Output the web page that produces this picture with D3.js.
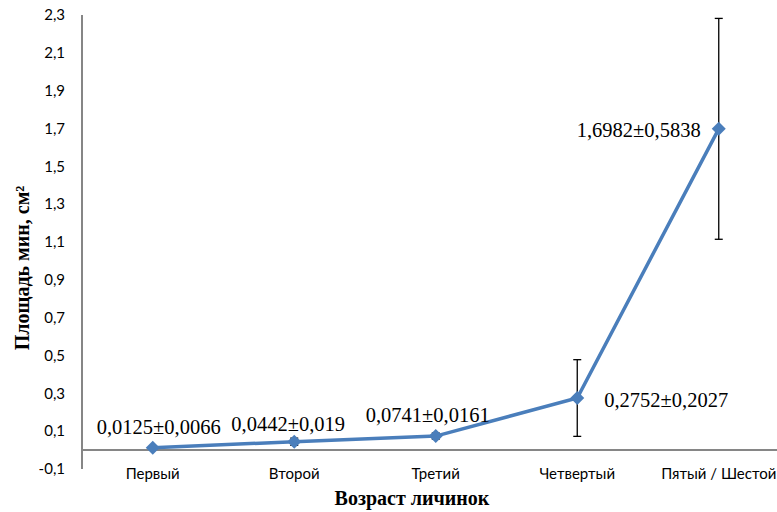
<!DOCTYPE html>
<html>
<head>
<meta charset="utf-8">
<script src="https://cdn.jsdelivr.net/npm/d3@7"></script>
<style>
  body { margin: 0; background: #fff; }
  svg { display: block; }
</style>
</head>
<body>
<div id="chart-area"></div>
<script>
// data
var categories = ["Первый", "Второй", "Третий", "Четвертый", "Пятый / Шестой"];
var means = [0.0125, 0.0442, 0.0741, 0.2752, 1.6982];
var errors = [0.0066, 0.019, 0.0161, 0.2027, 0.5838];
var labels = ["0,0125±0,0066", "0,0442±0,019", "0,0741±0,0161", "0,2752±0,2027", "1,6982±0,5838"];
var yTicks = [-0.1, 0.1, 0.3, 0.5, 0.7, 0.9, 1.1, 1.3, 1.5, 1.7, 1.9, 2.1, 2.3];

var width = 777, height = 512;
var plot = { left: 82, top: 15, bottom: 469, right: 789.5 };

var svg = d3.select("#chart-area")
    .append("svg")
        .attr("width", width)
        .attr("height", height);

// X Scale
var x = d3.scaleBand()
    .domain(categories)
    .range([plot.left, plot.right]);

// Y Scale
var y = d3.scaleLinear()
    .domain([-0.1, 2.3])
    .range([plot.bottom, plot.top]);

var cx = function(i){ return x(categories[i]) + x.bandwidth() / 2; };

// Y axis line + tick labels
svg.append("line")
    .attr("x1", plot.left).attr("x2", plot.left)
    .attr("y1", y(2.3)).attr("y2", y(-0.1))
    .attr("stroke", "#868686")
    .attr("stroke-width", 2);

svg.selectAll(".ytick")
    .data(yTicks)
    .enter().append("text")
        .attr("class", "ytick")
        .attr("x", 65)
        .attr("y", function(d){ return y(d); })
        .attr("dy", "0.35em")
        .attr("text-anchor", "end")
        .attr("font-family", "Lato, 'Open Sans', sans-serif")
        .attr("font-size", "15px")
        .attr("fill", "#000")
        .text(function(d){ return d3.format(".1f")(d).replace(".", ",").replace("−", "-"); });

// X axis at zero
svg.append("line")
    .attr("x1", plot.left).attr("x2", width)
    .attr("y1", y(0)).attr("y2", y(0))
    .attr("stroke", "#868686")
    .attr("stroke-width", 2);

svg.selectAll(".xtick")
    .data(categories)
    .enter().append("text")
        .attr("class", "xtick")
        .attr("x", function(d, i){ return cx(i); })
        .attr("y", 479)
        .attr("text-anchor", "middle")
        .attr("font-family", "Lato, 'Open Sans', sans-serif")
        .attr("font-size", "15px")
        .attr("fill", "#000")
        .text(function(d){ return d; });

// Axis titles
svg.append("text")
    .attr("x", 412)
    .attr("y", 505)
    .attr("text-anchor", "middle")
    .attr("font-family", "'Liberation Serif', 'Times New Roman', serif")
    .attr("font-weight", "bold")
    .attr("font-size", "20px")
    .text("Возраст личинок");

svg.append("text")
    .attr("transform", "translate(29," + 268 + ") rotate(-90)")
    .attr("text-anchor", "middle")
    .attr("font-family", "'Liberation Serif', 'Times New Roman', serif")
    .attr("font-weight", "bold")
    .attr("font-size", "20px")
    .text("Площадь мин, см²");

// Line
var line = d3.line()
    .x(function(d, i){ return cx(i); })
    .y(function(d){ return y(d); });

svg.append("path")
    .datum(means)
    .attr("d", line)
    .attr("fill", "none")
    .attr("stroke", "#4a7ebb")
    .attr("stroke-width", 3.5);

// Error bars
var eb = svg.selectAll(".err")
    .data(means)
    .enter().append("g")
        .attr("class", "err")
        .attr("stroke", "#000")
        .attr("stroke-width", 1.3);

eb.append("line")
    .attr("x1", function(d, i){ return cx(i); })
    .attr("x2", function(d, i){ return cx(i); })
    .attr("y1", function(d, i){ return y(d + errors[i]); })
    .attr("y2", function(d, i){ return y(d - errors[i]); });
eb.append("line")
    .attr("x1", function(d, i){ return cx(i) - 4; })
    .attr("x2", function(d, i){ return cx(i) + 4; })
    .attr("y1", function(d, i){ return y(d + errors[i]); })
    .attr("y2", function(d, i){ return y(d + errors[i]); });
eb.append("line")
    .attr("x1", function(d, i){ return cx(i) - 4; })
    .attr("x2", function(d, i){ return cx(i) + 4; })
    .attr("y1", function(d, i){ return y(d - errors[i]); })
    .attr("y2", function(d, i){ return y(d - errors[i]); });

// Markers
svg.selectAll(".marker")
    .data(means)
    .enter().append("path")
        .attr("class", "marker")
        .attr("d", "M0,-7L7,0L0,7L-7,0Z")
        .attr("transform", function(d, i){ return "translate(" + cx(i) + "," + y(d) + ")"; })
        .attr("fill", "#4a7ebb");

// Data labels
var labelPos = [
    { dx: 6, dy: -14 },
    { dx: -6, dy: -11 },
    { dx: -8, dy: -14 },
    { dx: 89, dy: 9 },
    { dx: -80, dy: 8 }
];

svg.selectAll(".dlabel")
    .data(labels)
    .enter().append("text")
        .attr("class", "dlabel")
        .attr("x", function(d, i){ return cx(i) + labelPos[i].dx; })
        .attr("y", function(d, i){ return y(means[i]) + labelPos[i].dy; })
        .attr("text-anchor", "middle")
        .attr("font-family", "'Liberation Serif', 'Times New Roman', serif")
        .attr("font-size", "20.5px")
        .attr("fill", "#000")
        .text(function(d){ return d; });
</script>
</body>
</html>
